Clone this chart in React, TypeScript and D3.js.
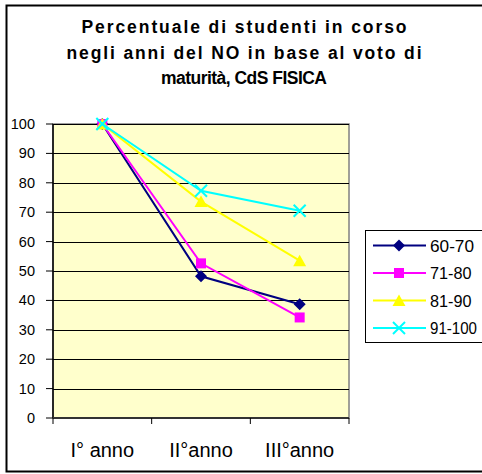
import React from 'react';
import * as d3 from 'd3';

const categories = ['I° anno', 'II°anno', 'III°anno'];
const yTicks = [0, 10, 20, 30, 40, 50, 60, 70, 80, 90, 100];
const seriesNames = ['60-70', '71-80', '81-90', '91-100'];
const s6070 = [100, 48.2, 38.7];
const s7180 = [100, 52.6, 34.2];
const s8190 = [100, 73.6, 53.5];
const s91100 = [100, 77.3, 70.5];
const seriesValues = [s6070, s7180, s8190, s91100];
const seriesColors = ['#000080', '#FF00FF', '#FFFF00', '#00FFFF'];
const markerKinds = ['diamond', 'square', 'triangle', 'cross'];
const titleLines = [
  'Percentuale di studenti in corso',
  'negli anni del NO in base al voto di',
  'maturità, CdS FISICA',
];
// widths the texts take in the original picture (Excel spacing)
const titleWidths = [325, 355, 166];
const legendWidths = [44, 41.5, 41.5, 47];

const W = 482;
const H = 474;
const FONT = 'Arial, "Liberation Sans", sans-serif';

const plot = { left: 53, right: 349, top: 124, bottom: 418 };

const Marker: React.FC<{ kind: string; x: number; y: number; color: string }> = ({ kind, x, y, color }) => {
  if (kind === 'diamond') {
    return <path d={`M${x},${y - 6}L${x + 6},${y}L${x},${y + 6}L${x - 6},${y}Z`} fill={color} />;
  }
  if (kind === 'square') {
    return <rect x={x - 5} y={y - 5} width={10} height={10} fill={color} />;
  }
  if (kind === 'triangle') {
    return <path d={`M${x},${y - 6}L${x + 6.5},${y + 5.5}L${x - 6.5},${y + 5.5}Z`} fill={color} />;
  }
  return (
    <g stroke={color} strokeWidth={2}>
      <line x1={x - 6} y1={y - 6} x2={x + 6} y2={y + 6} />
      <line x1={x - 6} y1={y + 6} x2={x + 6} y2={y - 6} />
    </g>
  );
};

export default function App() {
  const x = d3.scaleBand<string>().domain(categories).range([plot.left, plot.right]);
  const y = d3.scaleLinear().domain([0, 100]).range([plot.bottom, plot.top]);
  const cx = (c: string) => (x(c) || 0) + x.bandwidth() / 2;

  const line = d3.line<number>()
    .x((_, i) => cx(categories[i]))
    .y(d => y(d));

  const legend = { x: 365.5, y: 230.5, w: 118, h: 112 };
  const legendY = d3.scalePoint<string>().domain(seriesNames).range([245.5, 328]);

  return (
    <svg width={W} height={H} style={{ position: 'absolute', left: 0, top: 0 }} fontFamily={FONT}>
      <rect x={0} y={0} width={W} height={H} fill="#fff" />
      {/* outer border */}
      <rect x={6.5} y={5.5} width={W} height={466} fill="none" stroke="#000" strokeWidth={2} />

      {/* title */}
      <g fontWeight="bold" fontSize={17.5} textAnchor="middle" fill="#000">
        {titleLines.map((t, i) => (
          <text key={t} x={244} y={33 + i * 25.5} textLength={titleWidths[i]} lengthAdjust="spacing">{t}</text>
        ))}
      </g>

      {/* plot area */}
      <rect x={plot.left} y={plot.top} width={plot.right - plot.left} height={plot.bottom - plot.top}
        fill="#FFFFCC" stroke="#808080" strokeWidth={1.5} />
      {yTicks.filter(t => t > 0).map(t => (
        <line key={t} x1={plot.left} x2={plot.right} y1={Math.round(y(t)) + 0.5} y2={Math.round(y(t)) + 0.5}
          stroke="#000" strokeWidth={1} />
      ))}

      {/* axes */}
      <line x1={plot.left} x2={plot.left} y1={plot.top} y2={plot.bottom} stroke="#000" strokeWidth={1.5} />
      <line x1={plot.left} x2={plot.right} y1={plot.bottom} y2={plot.bottom} stroke="#333" strokeWidth={2} />
      {yTicks.map(t => (
        <g key={t}>
          <line x1={plot.left - 7} x2={plot.left} y1={y(t)} y2={y(t)} stroke="#000" />
          <text x={35} y={y(t) + 5} textAnchor="end" fontSize={14.5} fill="#000">{t}</text>
        </g>
      ))}
      {[...categories.map(c => x(c) || 0), plot.right].map((v, i) => (
        <line key={i} x1={v} x2={v} y1={plot.bottom} y2={plot.bottom + 6} stroke="#000" />
      ))}
      {categories.map(c => (
        <text key={c} x={cx(c)} y={457} textAnchor="middle" fontSize={20} fill="#000">{c}</text>
      ))}

      {/* series */}
      {seriesValues.map((vals, si) => (
        <g key={seriesNames[si]}>
          <path d={line(vals) || ''} fill="none" stroke={seriesColors[si]} strokeWidth={2} />
          {vals.map((v, i) => (
            <Marker key={i} kind={markerKinds[si]} x={cx(categories[i])} y={y(v)} color={seriesColors[si]} />
          ))}
        </g>
      ))}

      {/* legend */}
      <rect x={legend.x} y={legend.y} width={legend.w} height={legend.h} fill="#fff" stroke="#000" strokeWidth={1} />
      {seriesNames.map((n, si) => {
        const ly = legendY(n) || 0;
        return (
          <g key={n}>
            <line x1={373} x2={426} y1={ly} y2={ly} stroke={seriesColors[si]} strokeWidth={2} />
            <Marker kind={markerKinds[si]} x={399} y={ly} color={seriesColors[si]} />
            <text x={430} y={ly + 6} fontSize={16.5} fill="#000" textLength={legendWidths[si]}
              lengthAdjust="spacingAndGlyphs">{n}</text>
          </g>
        );
      })}
    </svg>
  );
}
